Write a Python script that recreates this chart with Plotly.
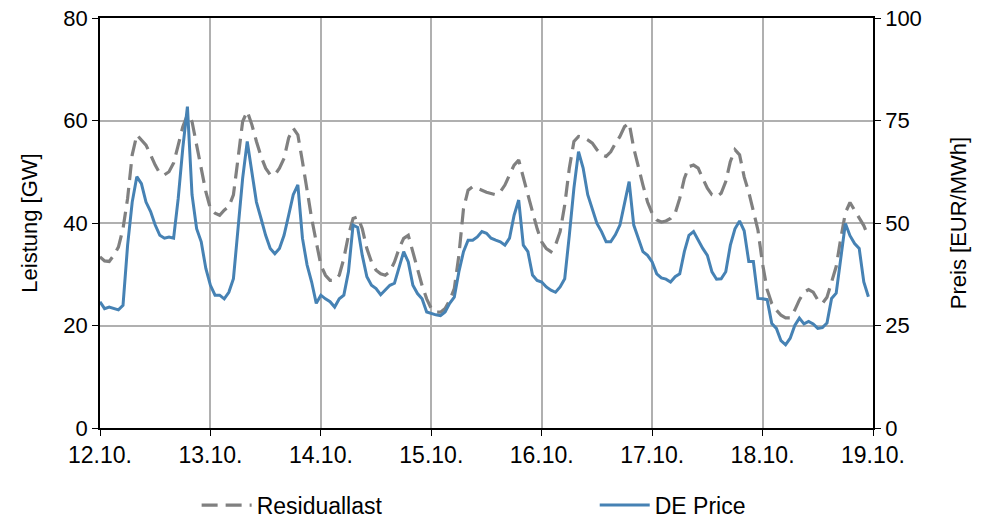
import pandas as pd
import plotly.graph_objects as go

# hourly values, 12.10. 00:00 .. 18.10. 23:00
residuallast_gw = [
    33.4, 32.6, 32.5, 33.7, 35.3, 38.9, 44.8, 53.3, 57.2, 56.2, 55.2, 53.3, 51.3, 49.7, 49.4, 50.0, 51.7, 55.2, 58.8, 61.1, 59.8, 55.2, 50.7, 46.1,
    42.8, 41.9, 41.5, 42.5, 43.2, 45.5, 52.6, 59.8, 61.8, 59.2, 55.9, 53.0, 50.7, 49.4, 49.4, 50.7, 52.6, 56.6, 58.5, 57.2, 52.0, 46.1, 40.9, 36.3,
    31.8, 29.8, 28.8, 28.8, 29.8, 33.1, 37.6, 40.9, 41.2, 38.9, 35.0, 32.4, 30.8, 30.1, 29.8, 30.5, 32.4, 35.0, 37.0, 37.6, 34.4, 31.1, 27.8, 25.2,
    23.3, 22.6, 22.6, 23.3, 24.9, 27.2, 33.7, 42.8, 46.4, 47.1, 46.8, 46.4, 46.0, 45.8, 45.5, 46.1, 47.4, 49.4, 51.3, 52.3, 48.7, 45.5, 42.2, 38.9,
    36.3, 35.0, 34.4, 35.7, 38.3, 43.5, 50.7, 55.9, 56.9, 56.7, 56.2, 55.6, 54.3, 53.3, 53.0, 53.9, 55.5, 56.9, 58.8, 59.5, 54.6, 50.7, 47.4, 44.1,
    41.9, 40.6, 40.2, 40.4, 40.9, 41.9, 44.8, 48.7, 51.0, 51.3, 50.7, 48.7, 46.8, 45.5, 45.1, 45.8, 48.1, 52.0, 54.3, 53.3, 49.0, 46.0, 42.5, 38.6,
    32.0, 27.0, 24.3, 23.0, 22.0, 21.5, 21.5, 23.0, 25.0, 26.5, 27.0, 26.5, 25.0, 24.3, 25.5, 28.5, 31.5, 37.0, 42.0, 44.0, 42.5, 41.0, 39.5, 37.3,
]

de_price_eur = [
    30.8, 29.1, 29.5, 29.1, 28.8, 29.9, 44.6, 55.1, 61.3, 59.6, 55.1, 52.8, 49.5, 47.0, 46.3, 46.6, 46.3, 56.0, 68.3, 78.4, 56.9, 48.6, 45.4, 38.9,
    34.8, 32.4, 32.4, 31.5, 33.1, 36.4, 48.6, 60.9, 69.9, 62.5, 55.1, 51.1, 47.0, 43.8, 42.5, 43.8, 47.0, 51.9, 56.9, 59.3, 46.3, 39.8, 35.6, 30.4,
    32.4, 31.5, 30.8, 29.5, 31.5, 32.4, 38.1, 49.5, 48.9, 42.1, 36.9, 34.8, 34.0, 32.5, 33.6, 34.8, 35.3, 38.9, 43.0, 40.5, 34.8, 32.8, 31.5, 28.3,
    27.9, 27.6, 27.4, 28.3, 30.4, 31.9, 38.1, 43.0, 45.8, 45.8, 46.6, 47.9, 47.5, 46.3, 45.8, 45.4, 44.6, 46.3, 51.9, 55.6, 44.6, 43.0, 37.3, 36.0,
    35.6, 34.4, 33.6, 33.1, 34.4, 36.4, 47.0, 58.5, 67.4, 63.4, 56.9, 53.1, 49.9, 47.9, 45.4, 45.4, 47.1, 49.5, 54.4, 60.1, 49.5, 46.3, 43.0, 42.1,
    40.5, 37.6, 36.6, 36.3, 35.6, 36.9, 37.6, 43.0, 47.0, 47.9, 45.8, 43.8, 42.1, 38.1, 36.3, 36.4, 38.1, 44.6, 48.6, 50.5, 48.1, 40.6, 40.6, 31.6,
    31.5, 31.3, 25.5, 24.3, 21.3, 20.3, 21.9, 25.0, 26.8, 25.4, 26.0, 25.4, 24.3, 24.5, 25.6, 31.6, 32.9, 41.3, 49.9, 46.9, 45.0, 43.8, 35.6, 32.0,
]

start_date = "2023-10-12"
end_date = "2023-10-19"
times = pd.date_range(start_date, periods=len(residuallast_gw), freq="h")

left_ticks = [0, 20, 40, 60, 80]
right_ticks = [0, 25, 50, 75, 100]

FONT = "Liberation Sans, Arial, sans-serif"
FS = 22

fig = go.Figure()
fig.add_trace(go.Scatter(
    x=times, y=residuallast_gw, name="Residuallast", mode="lines",
    line=dict(color="#808080", width=3.2, dash="16px,8px"),
    legend="legend",
))
fig.add_trace(go.Scatter(
    x=times, y=de_price_eur, name="DE Price", mode="lines", yaxis="y2",
    line=dict(color="#4682b4", width=3),
    legend="legend2",
))

legend_common = dict(
    orientation="h", yanchor="middle", y=-0.188, xanchor="left",
    font=dict(size=23, family=FONT, color="black"), bgcolor="rgba(0,0,0,0)",
    itemwidth=50,
)

fig.update_layout(
    width=991, height=521,
    margin=dict(l=100, r=118, t=18, b=93, autoexpand=False),
    paper_bgcolor="white", plot_bgcolor="white",
    font=dict(family=FONT, size=FS, color="black"),
    showlegend=True,
    legend=dict(x=0.125, **legend_common),
    legend2=dict(x=0.64, **legend_common),
    xaxis=dict(
        range=[pd.Timestamp(start_date), pd.Timestamp(end_date)],
        tickformat="%d.%m.", dtick=86400000, tick0=start_date,
        showgrid=True, gridcolor="#b0b0b0", gridwidth=1.5,
        showline=True, linecolor="black", linewidth=1.5, mirror=True,
        ticks="outside", ticklen=6, tickcolor="black", tickwidth=1.3,
        tickfont=dict(size=23), zeroline=False,
    ),
    yaxis=dict(
        range=[0, 80], tickvals=left_ticks,
        title=dict(text="Leistung [GW]", font=dict(size=FS), standoff=20),
        showgrid=True, gridcolor="#b0b0b0", gridwidth=1.5,
        showline=True, linecolor="black", linewidth=1.5,
        ticks="outside", ticklen=6, tickcolor="black", tickwidth=1.3,
        tickfont=dict(size=FS), zeroline=False,
    ),
    yaxis2=dict(
        range=[0, 100], tickvals=right_ticks, overlaying="y", side="right",
        title=dict(text="Preis [EUR/MWh]", font=dict(size=FS), standoff=30),
        showgrid=False,
        showline=True, linecolor="black", linewidth=1.5,
        ticks="outside", ticklen=6, tickcolor="black", tickwidth=1.3,
        tickfont=dict(size=FS), zeroline=False,
    ),
)

fig.write_html(
    "out.html",
    config={"displayModeBar": False},
    post_script="document.body.style.margin='0';document.body.style.overflow='hidden';",
)
